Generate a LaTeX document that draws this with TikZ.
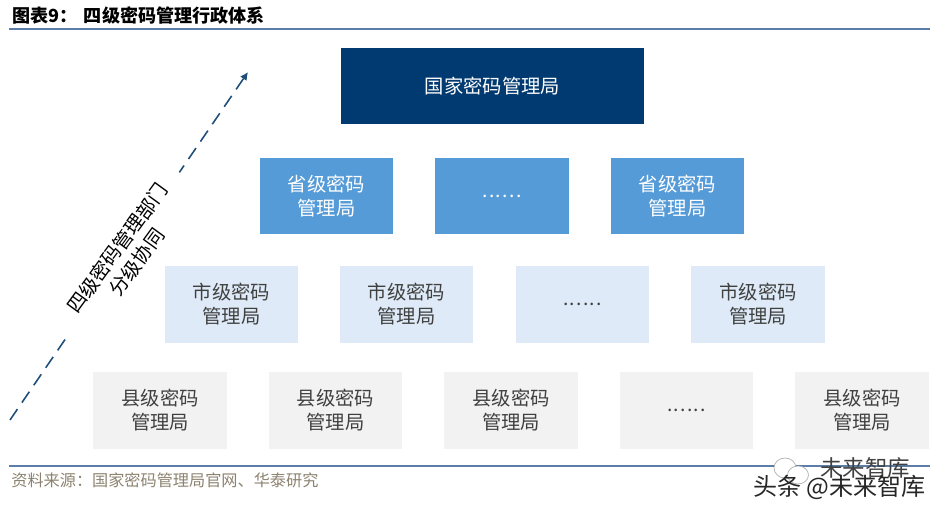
\documentclass[tikz,border=0pt]{standalone}
\usepackage{fontspec}
\setmainfont{Noto Sans CJK SC}
\usepackage{tikz}
\usetikzlibrary{arrows.meta,positioning,shapes.geometric}
\definecolor{ruleblue}{HTML}{5B7EA8}
\definecolor{natblue}{HTML}{003A70}
\definecolor{provblue}{HTML}{559BD7}
\definecolor{cityblue}{HTML}{DEEAF7}
\definecolor{countygray}{HTML}{F2F2F2}
\definecolor{arrowblue}{HTML}{1F4E79}
\definecolor{sourcetan}{HTML}{8C8270}
\newcommand{\moredots}{\raisebox{-.3ex}{\addfontfeature{LetterSpace=7}......}}
\begin{document}
\begin{tikzpicture}[
  x=.02cm,y=-.02cm,
  font=\fontsize{11}{13.6}\selectfont,
  level/.style={minimum width=2.68cm,minimum height=1.54cm,inner sep=0pt,align=center,text=black!75},
  rulel/.style={ruleblue,line width=.85pt},
  arr/.style={-{Latex[length=1.6mm,width=1.6mm]},arrowblue,line width=.9pt,dash pattern=on 7.5pt off 4.5pt}]
\useasboundingbox (0,0) rectangle (940,513);
\node[anchor=west,inner sep=0pt,font=\fontsize{10.3}{12}\selectfont\bfseries] (title) at (12,16) {图表9：\hspace{.35em}四级密码管理行政体系};
\coordinate (topl) at (9,29);
\coordinate (topr) at (930,29);
\draw[rulel] (topl) -- (topr);
\coordinate (lowl) at (9,466);
\coordinate (lowr) at (930,466);
\draw[rulel] (lowl) -- (lowr);
\node[anchor=west,inner sep=0pt,font=\fontsize{9.2}{11}\selectfont,text=sourcetan] (source) at (11,480) {资料来源：国家密码管理局官网、华泰研究};
% dashed arrow with its label
\coordinate (arrfrom) at (10,420);
\coordinate (arrto) at (248,72);
\draw[arr] (arrfrom) -- (arrto);
\node[fill=white,rotate=54,align=center,inner sep=3pt,minimum width=3.9cm] (cooperate) at (127,255) {四级密码管理部门\\分级协同};
% top level
\node[level,minimum width=6.06cm,fill=natblue,text=white] (nat) at (492.5,86) {国家密码管理局};
% province
\foreach \k/\x/\t in {0/326.5/省级密码\\管理局,1/502/\moredots,2/677.5/省级密码\\管理局} {
  \node[level,fill=provblue,text=white] (prov\k) at (\x,196) {\t};
}
% city
\foreach \k/\x/\t in {0/231.5/市级密码\\管理局,1/406.5/市级密码\\管理局,2/582.5/\moredots,3/758/市级密码\\管理局} {
  \node[level,fill=cityblue] (city\k) at (\x,304.5) {\t};
}
% county
\foreach \k/\x/\t in {0/160/县级密码\\管理局,1/335.5/县级密码\\管理局,2/511/县级密码\\管理局,3/686.5/\moredots,4/862/县级密码\\管理局} {
  \node[level,fill=countygray] (county\k) at (\x,410.5) {\t};
}
% watermark
\node[draw=black!30,fill=white,ellipse,minimum width=.44cm,minimum height=.4cm,inner sep=0pt] (bubbleA) at (785,468) {};
\node[draw=black!30,fill=white,ellipse,minimum width=.42cm,minimum height=.36cm,inner sep=0pt] (bubbleB) at (798,475) {};
\node[anchor=west,inner sep=0pt,font=\fontsize{12.8}{14}\selectfont,text=black!75] (markA) at (820,468) {未来智库};
\node[anchor=east,inner sep=0pt,font=\fontsize{13.7}{15}\selectfont,text=black!85] (markB) at (926,487) {头条 @未来智库};
\end{tikzpicture}
\end{document}
